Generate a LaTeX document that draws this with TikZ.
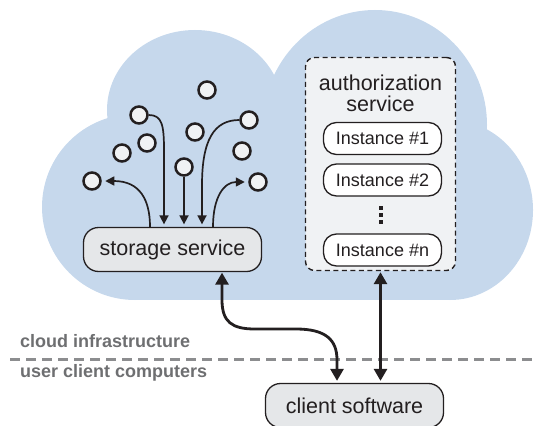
\documentclass[tikz,border=0pt]{standalone}
\usepackage{fontspec}
\setmainfont{Liberation Sans}
\usetikzlibrary{arrows.meta}
\definecolor{cloudblue}{RGB}{198,216,236}
\definecolor{boxgray}{RGB}{229,231,233}
\definecolor{lightfill}{RGB}{240,242,244}
\definecolor{labelgray}{RGB}{110,111,113}
\definecolor{sepgray}{RGB}{140,141,143}
\definecolor{ink}{RGB}{35,31,32}
\begin{document}
\begin{tikzpicture}[x=1pt,y=-1pt,
  blob/.style={circle, draw=ink, fill=lightfill, line width=2.5pt, minimum size=17pt, inner sep=0pt},
  pill/.style={rounded corners=15pt, draw=ink, line width=1.3pt, fill=boxgray, minimum width=178pt, minimum height=44pt, inner sep=0pt, font=\fontsize{21.5}{24}\selectfont, text=ink},
  inst/.style={rounded corners=13pt, draw=ink, line width=1.3pt, fill=white, minimum width=118pt, minimum height=32pt, inner sep=0pt, font=\fontsize{18}{20}\selectfont, text=ink},
  arr/.style={draw=ink, line width=1.7pt, -{Triangle[length=9pt,width=9pt]}},
  biarr/.style={draw=ink, line width=2.8pt, {Triangle[length=12pt,width=13pt]}-{Triangle[length=12pt,width=13pt]}},
  lbl/.style={anchor=west, text=labelgray, font=\fontsize{18}{20}\selectfont\bfseries, inner sep=0pt},
  authbox/.style={draw=ink, line width=1.4pt, dash pattern=on 5pt off 3.5pt, fill=lightfill, rounded corners=9pt, minimum width=150pt, minimum height=213pt, inner sep=0pt}
]
\useasboundingbox (0,0) rectangle (534,425);
% cloud
\fill[cloudblue] (195,110) ellipse [x radius=88pt, y radius=80pt];
\fill[cloudblue] (375,125) ellipse [x radius=112pt, y radius=115pt];
\fill[cloudblue] (135,207) circle [radius=93pt];
\fill[cloudblue] (450,210) ellipse [x radius=83pt, y radius=90pt];
\fill[cloudblue] (135,150) rectangle (450,300);

% separator
\coordinate (sepL) at (10,359);
\coordinate (sepR) at (534,359);
\draw[sepgray, line width=3pt, dash pattern=on 10pt off 6pt] (sepL) -- (sepR);
\node[lbl] (cloudlbl) at (20,341) {cloud infrastructure};
\node[lbl] (userlbl) at (20,373) {user client computers};

% authorization service
\node[authbox] (auth) at (380.5,164) {};
\node[align=center, text=ink, font=\fontsize{21.5}{21}\selectfont, inner sep=0pt] (authtitle) at (380.5,93) {authorization\\service};
\node[inst] (i1) at (382.5,138.5) {Instance \#1};
\node[inst] (i2) at (382.5,180) {Instance \#2};
\node[inst] (in) at (382.5,250) {Instance \#n};
\fill[ink] (379.2,206.2) rectangle ++(3.6,3.6);
\fill[ink] (379.2,213.2) rectangle ++(3.6,3.6);
\fill[ink] (379.2,220.2) rectangle ++(3.6,3.6);

% storage and client
\node[pill] (st) at (172.5,249.5) {storage service};
\node[pill] (cl) at (354.5,405.5) {client software};

% data objects
\node[blob] (c1) at (207,90) {};
\node[blob] (c2) at (139,115) {};
\node[blob] (c3) at (249,120) {};
\node[blob] (c4) at (195,132) {};
\node[blob] (c5) at (147,143) {};
\node[blob] (c6) at (122,153) {};
\node[blob] (c7) at (242,151) {};
\node[blob] (c8) at (184,167) {};
\node[blob] (c9) at (92,181) {};
\node[blob] (c10) at (258,182) {};

% arrows around storage
\draw[arr, shorten >=3.5pt] ([xshift=-22.5pt]st.north) .. controls (150,200) and (140,181) .. (c9.east);
\draw[arr, shorten >=3.5pt] ([xshift=40.5pt]st.north) .. controls (213,197) and (224,182) .. (c10.west);
\draw[arr, shorten >=2.5pt] (c2.east) .. controls (162,115) and (164,125) .. (164,150) -- ([xshift=-8.5pt]st.north);
\draw[arr, shorten >=2.5pt] (c8.south) -- ([xshift=11.5pt]st.north);
\draw[arr, shorten >=2.5pt] (c3.west) .. controls (214,120) and (202,140) .. (202,185) -- ([xshift=29.5pt]st.north);

% client connections
\draw[biarr, shorten <=0.5pt, shorten >=2pt] ([xshift=49.5pt]st.south) -- (222,300) .. controls (222,322) and (232,329) .. (255,329) -- (296,329) .. controls (326,329) and (337,340) .. (337,360) -- ([xshift=-17.5pt]cl.north);
\draw[biarr, shorten <=1pt, shorten >=2pt] (auth.south) -- (auth.south |- cl.north);
\end{tikzpicture}
\end{document}
